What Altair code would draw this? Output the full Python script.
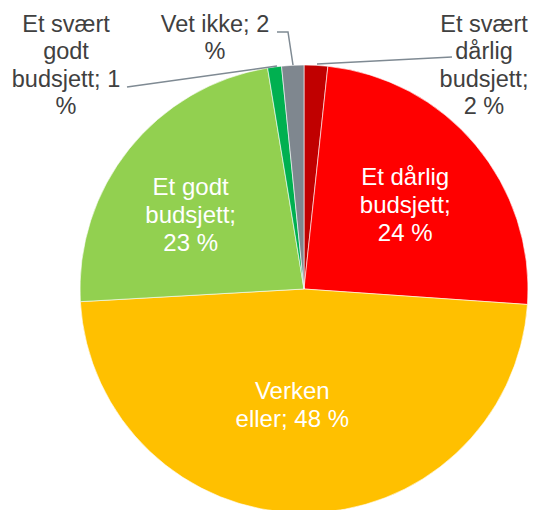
import altair as alt
import pandas as pd

# ---- data ----
categories = [
    "Et svært dårlig budsjett",
    "Et dårlig budsjett",
    "Verken eller",
    "Et godt budsjett",
    "Et svært godt budsjett",
    "Vet ikke",
]
values = [1.7, 24.4, 48.0, 23.3, 1.0, 1.6]
label_lines = [
    ["Et svært", "dårlig", "budsjett;", "2 %"],
    ["Et dårlig", "budsjett;", "24 %"],
    ["Verken", "eller; 48 %"],
    ["Et godt", "budsjett;", "23 %"],
    ["Et svært", "godt", "budsjett; 1", "%"],
    ["Vet ikke; 2", "%"],
]
colors = ["#C00000", "#FF0000", "#FFC000", "#92D050", "#00B050", "#7F878F"]

# ---- layout (placement of pie, labels and leader lines) ----
CX, CY, R = 296, 281, 224
inside_label_radius = [0, 132, 115, 135, 0, 0]
inside_nudge_x = [0, 0, -11, -8, 0, 0]
inside_nudge_y = [0, 0, 0, 10, 0, 0]
outside_label_pos = {0: (476, 24), 4: (58, 24), 5: (207, 24)}  # first-line baseline
leaders = {
    0: [(309, 56), (444, 49)],
    4: [(269, 58), (119, 79)],
    5: [(285, 57), (280, 24), (269, 24)],
}

FONT = "Liberation Sans"
FS_IN = 24
FS_OUT = 23.5
LH_OUT = 27.3
LH_IN = 28.2

df = pd.DataFrame({
    "idx": list(range(len(categories))),
    "category": categories,
    "value": values,
    "label": ["\n".join(l) for l in label_lines],
    "n": [len(l) for l in label_lines],
    "lr": inside_label_radius,
    "ndx": inside_nudge_x,
    "ndy": inside_nudge_y,
})

out_rows = []
for i, (x, y) in outside_label_pos.items():
    out_rows.append({"x": x, "y": y, "label": "\n".join(label_lines[i])})
df_out = pd.DataFrame(out_rows)

line_rows = []
for i, pts in leaders.items():
    for s, (x, y) in enumerate(pts):
        line_rows.append({"line": categories[i], "step": s, "x": x, "y": y})
df_lines = pd.DataFrame(line_rows)

pie = alt.Chart(df).mark_arc(
    outerRadius=R, stroke="white", strokeWidth=0.6
).encode(
    theta=alt.Theta("value:Q", stack=True),
    color=alt.Color("category:N", scale=alt.Scale(domain=categories, range=colors), legend=None),
    order=alt.Order("idx:Q"),
    x=alt.value(CX),
    y=alt.value(CY),
)

inner_text = alt.Chart(df).transform_window(
    cum="sum(value)", sort=[alt.SortField("idx")], frame=[None, 0]
).transform_joinaggregate(
    total="sum(value)"
).transform_calculate(
    mid="(datum.cum - datum.value/2)/datum.total*2*PI",
).transform_calculate(
    px=f"{CX} + datum.lr*sin(datum.mid) + datum.ndx",
    py=f"{CY} - datum.lr*cos(datum.mid) + datum.ndy - (datum.n-1)/2*{LH_IN} + {0.36*FS_IN}",
).transform_filter(
    "datum.lr > 0"
).mark_text(
    font=FONT, fontSize=FS_IN, lineHeight=LH_IN, color="white",
    align="center", baseline="alphabetic", lineBreak="\n",
).encode(
    x=alt.X("px:Q", scale=None),
    y=alt.Y("py:Q", scale=None),
    text="label:N",
)

lines = alt.Chart(df_lines).mark_line(color="#7F8A93", strokeWidth=1.5).encode(
    x=alt.X("x:Q", scale=None),
    y=alt.Y("y:Q", scale=None),
    detail="line:N",
    order="step:Q",
)

outer_text = alt.Chart(df_out).mark_text(
    font=FONT, fontSize=FS_OUT, lineHeight=LH_OUT, color="#404040",
    align="center", baseline="alphabetic", lineBreak="\n",
).encode(
    x=alt.X("x:Q", scale=None),
    y=alt.Y("y:Q", scale=None),
    text="label:N",
)

chart = alt.layer(pie, inner_text, lines, outer_text).properties(
    width=522, height=502, padding=0, autosize="none"
).configure_view(stroke=None)

chart.save("out.html", embed_options={"renderer": "svg", "actions": False})
